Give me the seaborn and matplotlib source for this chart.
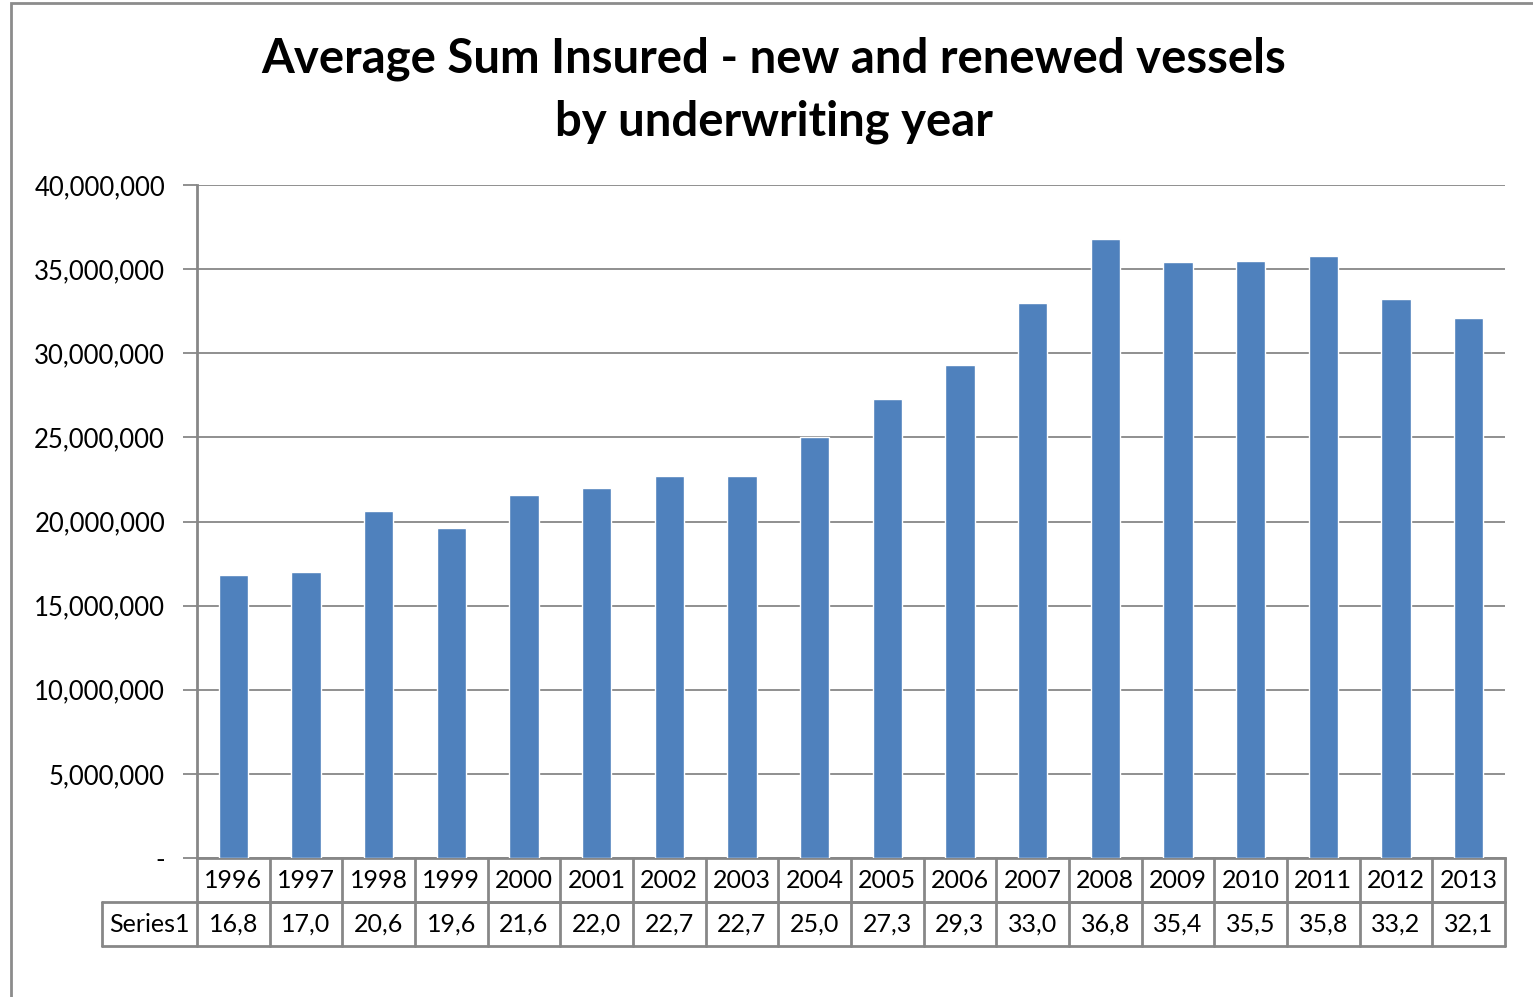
import numpy as np
import pandas as pd
import matplotlib.pyplot as plt
import matplotlib.ticker as mticker
from matplotlib.patches import Rectangle
import seaborn as sns

years = ['1996', '1997', '1998', '1999', '2000', '2001', '2002', '2003', '2004',
         '2005', '2006', '2007', '2008', '2009', '2010', '2011', '2012', '2013']
values_m = [16.8, 17.0, 20.6, 19.6, 21.6, 22.0, 22.7, 22.7, 25.0,
            27.3, 29.3, 33.0, 36.8, 35.4, 35.5, 35.8, 33.2, 32.1]
series_name = 'Series1'
title = 'Average Sum Insured - new and renewed vessels\nby underwriting year'

df = pd.DataFrame({'year': years, 'value': [v * 1e6 for v in values_m]})

sns.set_style('white')
plt.rcParams['font.family'] = ['Lato', 'DejaVu Sans']
plt.rcParams['text.color'] = 'black'
plt.rcParams['ytick.labelcolor'] = 'black'

fig = plt.figure(figsize=(15.33, 9.97), dpi=100)
ax = fig.add_axes([197 / 1533, 1 - 858 / 997, 1308 / 1533, 673 / 997])

sns.barplot(data=df, x='year', y='value', color='#4F81BD', width=0.4,
            saturation=1, ax=ax, zorder=3)

grid_c = '#878787'
fs = 18
ax.set_ylim(0, 40e6)
ax.set_xlim(-0.5, len(years) - 0.5)
ax.yaxis.set_major_locator(mticker.MultipleLocator(5e6))
ax.yaxis.set_major_formatter(mticker.FuncFormatter(
    lambda v, p: '-' if v == 0 else f'{v:,.0f}'))
ax.grid(axis='y', color=grid_c, lw=1.3, zorder=0)
ax.tick_params(axis='y', length=10, width=1.3, color=grid_c, labelsize=18.5,
               labelcolor='black', pad=13, left=True, direction='out')
ax.tick_params(axis='x', bottom=False, labelbottom=False)
ax.set_xlabel('')
ax.set_ylabel('')
for s in ['top', 'right']:
    ax.spines[s].set_visible(False)
for s in ['left', 'bottom']:
    ax.spines[s].set_color(grid_c)
    ax.spines[s].set_linewidth(2)

# data table below the axis
row_h = 44 / 673
lab_left = (102 - 197) / 1308 * len(years) - 0.5
tr = ax.get_xaxis_transform()
lk = dict(color=grid_c, lw=2, transform=tr, clip_on=False)
ax.plot([-0.5, len(years) - 0.5], [-row_h, -row_h], **lk)
ax.plot([lab_left, len(years) - 0.5], [-row_h, -row_h], **lk)
ax.plot([lab_left, len(years) - 0.5], [-2 * row_h, -2 * row_h], **lk)
ax.plot([lab_left, lab_left], [-row_h, -2 * row_h], **lk)
for i in range(len(years) + 1):
    ax.plot([i - 0.5, i - 0.5], [0, -2 * row_h], **lk)
for i, (y, v) in enumerate(zip(years, values_m)):
    ax.text(i, -0.5 * row_h, y, transform=tr, ha='center', va='center',
            fontsize=fs, color='black')
    ax.text(i, -1.5 * row_h, f'{v:.1f}'.replace('.', ','), transform=tr,
            ha='center', va='center', fontsize=fs, color='black')
ax.text((lab_left - 0.5) / 2, -1.5 * row_h, series_name, transform=tr,
        ha='center', va='center', fontsize=fs, color='black')

fig.text(774 / 1533, 1 - 90 / 997, title, ha='center', va='center',
         fontsize=34, fontweight='bold', linespacing=1.5, color='black')

# chart area border
fig.patches.append(Rectangle((11 / 1533, -0.1), 1.2, 1 - 3 / 997 + 0.1,
                             transform=fig.transFigure, fill=False,
                             edgecolor='#8c8c8c', lw=2))

fig.savefig('out.png', dpi=100, facecolor='white')
